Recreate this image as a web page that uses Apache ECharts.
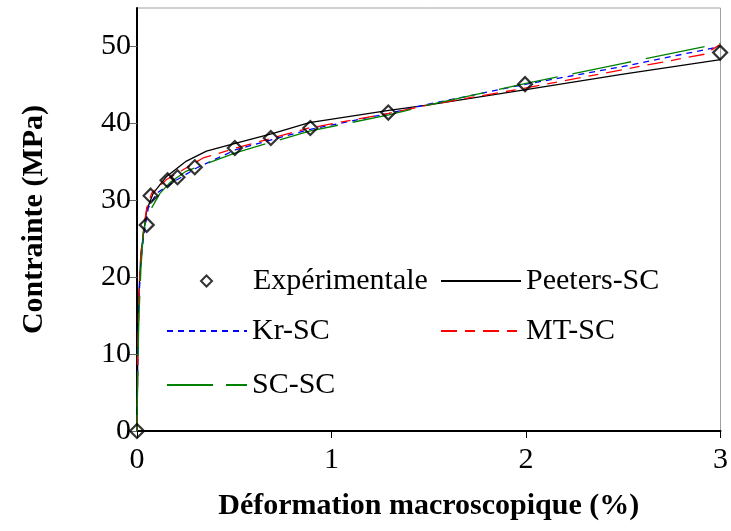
<!DOCTYPE html>
<html>
<head>
<meta charset="utf-8">
<script src="https://cdn.jsdelivr.net/npm/echarts@6/dist/echarts.min.js"></script>
<style>
html, body { margin: 0; padding: 0; background: #fff; }
#main { width: 731px; height: 531px; }
</style>
</head>
<body>
<div id="main"></div>
<script>
// points experimentaux [deformation %, contrainte MPa]
var expData = [[0, 0], [0.05, 26.8], [0.07, 30.6], [0.157, 32.6], [0.208, 33.0], [0.297, 34.3],
    [0.503, 36.8], [0.688, 38.1], [0.891, 39.4], [1.292, 41.4], [1.995, 45.1], [2.998, 49.2]];
// modeles
var peetersData = [[0, 0], [0.004, 10], [0.01, 18], [0.02, 23], [0.035, 26], [0.05, 28.7], [0.083, 30.9],
    [0.152, 33.1], [0.254, 35.1], [0.357, 36.4], [0.476, 37.2], [0.7, 38.7], [0.886, 40.1], [1.295, 41.7],
    [1.5, 42.4], [2.0, 44.4], [2.5, 46.4], [3.0, 48.3]];
var krData = [[0, 0], [0.004, 10], [0.01, 17], [0.02, 22], [0.035, 25.5], [0.058, 29.0], [0.1, 30.9],
    [0.195, 32.5], [0.306, 34.2], [0.51, 36.6], [0.886, 39.2], [1.295, 41.3], [1.5, 42.5], [2.0, 45.1],
    [2.5, 47.4], [3.0, 50.0]];
var mtData = [[0, 0], [0.004, 10], [0.01, 18], [0.02, 23], [0.035, 26.5], [0.05, 29], [0.075, 30.9],
    [0.152, 32.7], [0.34, 35.5], [0.51, 36.8], [0.886, 39.4], [1.295, 41.3], [1.5, 42.4], [2.0, 44.6],
    [2.5, 47.0], [2.92, 49.0], [3.0, 50.3]];
var scData = [[0, 0], [0.004, 8], [0.01, 15], [0.02, 21], [0.032, 25.7], [0.05, 27.9], [0.118, 30.9],
    [0.169, 32.3], [0.254, 33.8], [0.34, 34.6], [0.51, 36.2], [0.886, 39.0], [1.295, 41.1], [1.5, 42.4],
    [2.0, 45.2], [2.5, 47.8], [3.0, 50.4]];
var xTicks = [0, 1, 2, 3];
var yTicks = [0, 10, 20, 30, 40, 50];

var FONT = 'Liberation Serif';
var chart = echarts.init(document.getElementById('main'));

// une legende par entree, placee a la main
function legendAt(name, left, top, dash) {
    var lg = {
        data: [name],
        left: left,
        top: top,
        padding: 0,
        itemWidth: 80,
        itemHeight: 12,
        itemGap: 0,
        itemStyle: { opacity: 0 },
        textStyle: { fontFamily: FONT, fontSize: 30, color: '#000' }
    };
    if (dash) lg.lineStyle = { type: dash };
    return lg;
}

chart.setOption({
    animation: false,
    grid: {
        left: 137, right: 8, top: 8, bottom: 100,
        show: true, borderColor: '#a0a0a0', borderWidth: 1
    },
    legend: [
        {
            data: ['Expérimentale'],
            left: 200, top: 266, padding: 0,
            itemWidth: 11, itemHeight: 11,
            textStyle: { fontFamily: FONT, fontSize: 30, color: '#000', padding: [0, 0, 0, 36] }
        },
        legendAt('Peeters-SC', 440, 266),
        legendAt('Kr-SC', 166, 316),
        legendAt('MT-SC', 440, 316),
        legendAt('SC-SC', 166, 370, [46, 13])
    ],
    xAxis: {
        type: 'value',
        min: 0, max: 3, interval: 1,
        name: 'Déformation macroscopique (%)',
        nameLocation: 'middle',
        nameGap: 60,
        nameTextStyle: { fontFamily: FONT, fontSize: 30, fontWeight: 'bold', color: '#000' },
        axisLine: { lineStyle: { color: '#000', width: 2 } },
        axisTick: { show: true, inside: false, length: 7, lineStyle: { color: '#000', width: 1 }, customValues: xTicks },
        axisLabel: { fontFamily: FONT, fontSize: 30, color: '#000', margin: 14, customValues: xTicks },
        splitLine: { show: false }
    },
    yAxis: {
        type: 'value',
        min: 0, max: 55, interval: 10,
        name: 'Contrainte (MPa)',
        nameLocation: 'middle',
        nameGap: 88,
        nameTextStyle: { fontFamily: FONT, fontSize: 30, fontWeight: 'bold', color: '#000' },
        axisLine: { show: true, lineStyle: { color: '#000', width: 2 } },
        axisTick: { show: true, inside: false, length: 10, lineStyle: { color: '#666', width: 1 }, customValues: yTicks },
        axisLabel: { fontFamily: FONT, fontSize: 30, color: '#000', margin: 6, customValues: yTicks },
        splitLine: { show: false }
    },
    series: [
        {
            name: 'Peeters-SC', type: 'line', data: peetersData, symbol: 'none',
            lineStyle: { color: '#000', width: 1.3, type: 'solid' }, itemStyle: { color: '#000' }
        },
        {
            name: 'Kr-SC', type: 'line', data: krData, symbol: 'none',
            lineStyle: { color: '#0000ff', width: 1.3, type: [6, 5] }, itemStyle: { color: '#0000ff' }
        },
        {
            name: 'MT-SC', type: 'line', data: mtData, symbol: 'none',
            lineStyle: { color: '#ff0000', width: 1.3, type: [16, 8, 10, 8] }, itemStyle: { color: '#ff0000' }
        },
        {
            name: 'SC-SC', type: 'line', data: scData, symbol: 'none',
            lineStyle: { color: '#008000', width: 1.3, type: [60, 15] }, itemStyle: { color: '#008000' }
        },
        {
            name: 'Expérimentale', type: 'scatter', data: expData, symbol: 'diamond', symbolSize: 14, z: 5,
            itemStyle: { color: 'rgba(255,255,255,0)', borderColor: '#000', borderWidth: 2.2 }
        }
    ]
});
</script>
</body>
</html>
